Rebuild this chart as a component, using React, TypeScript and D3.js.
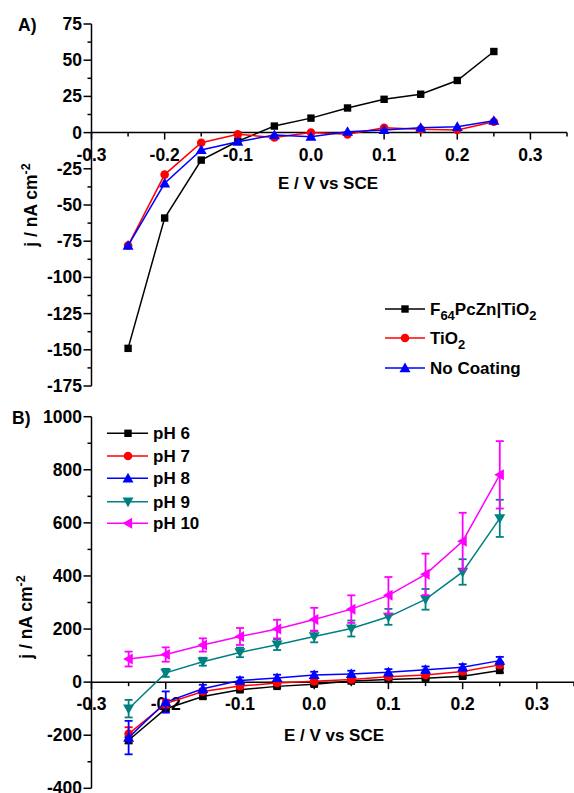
import React from "react";
import * as d3 from "d3";

const potentials = [-0.25, -0.2, -0.15, -0.1, -0.05, 0.0, 0.05, 0.1, 0.15, 0.2, 0.25];

// Panel A
const aF64 = [-149, -59, -19, -6, 4.5, 10, 17, 23, 26.5, 36, 56];
const aTiO2 = [-78, -29, -7, -1.2, -3.3, 0, -1.2, 3.4, 2.3, 1.8, 7.5];
const aNone = [-78, -35, -12, -6.3, -1.7, -2.8, 0.6, 1.8, 3.4, 4, 8.2];
const aYTicks = [75, 50, 25, 0, -25, -50, -75, -100, -125, -150, -175];
const xTicks = [-0.3, -0.2, -0.1, 0.0, 0.1, 0.2, 0.3];

// Panel B
const bPH6 = [-219, -100, -54, -29, -16, -8, 4, 10, 15, 22, 44];
const bPH7 = [-195, -81, -35, -15, -3, 3, 10, 20, 27, 40, 65];
const bPH8 = [-209, -75, -25, 6, 16, 27, 31, 37, 47, 56, 81];
const bPH9 = [-100, 35, 77, 112, 141, 172, 202, 246, 312, 415, 617];
const bPH10 = [87, 104, 140, 172, 200, 236, 275, 327, 406, 531, 781];
const bErr6 = [12, 10, 8, 6, 6, 6, 6, 6, 6, 6, 8];
const bErr7 = [25, 15, 10, 8, 8, 8, 8, 8, 8, 8, 10];
const bErr8 = [63, 40, 15, 12, 12, 12, 12, 12, 12, 12, 14];
const bErr9 = [33, 15, 15, 18, 20, 22, 30, 30, 39, 48, 70];
const bErr10 = [28, 27, 25, 32, 35, 44, 52, 69, 78, 107, 127];
const bYTicks = [1000, 800, 600, 400, 200, 0, -200, -400];

const FONT = "'Liberation Sans', Arial, sans-serif";
const TICK = 17.5;

type Shape = "square" | "circle" | "up" | "down" | "left";

function Marker({ shape, x, y, color }: { shape: Shape; x: number; y: number; color: string }) {
  if (shape === "square") return <rect x={x - 3.7} y={y - 3.7} width={7.4} height={7.4} fill={color} />;
  if (shape === "circle") return <circle cx={x} cy={y} r={4.3} fill={color} />;
  let pts: [number, number][] = [];
  const t = 5.5;
  if (shape === "up") pts = [[x, y - t], [x - t, y + t * 0.75], [x + t, y + t * 0.75]];
  if (shape === "down") pts = [[x, y + t], [x - t, y - t * 0.75], [x + t, y - t * 0.75]];
  if (shape === "left") pts = [[x - t, y], [x + t * 0.75, y - t], [x + t * 0.75, y + t]];
  return <polygon points={pts.map((p) => p.join(",")).join(" ")} fill={color} />;
}

function Series({
  xs, ys, errs, color, shape, x, y,
}: {
  xs: number[]; ys: number[]; errs?: number[]; color: string; shape: Shape;
  x: d3.ScaleLinear<number, number>; y: d3.ScaleLinear<number, number>;
}) {
  const line = d3.line<number>().x((_, i) => x(xs[i])).y((d) => y(d));
  return (
    <g>
      {errs &&
        ys.map((v, i) => {
          const cx = x(xs[i]);
          const y1 = y(v + errs[i]);
          const y2 = y(v - errs[i]);
          return (
            <g key={"e" + i} stroke={color} strokeWidth={1.8}>
              <line x1={cx} x2={cx} y1={y1} y2={y2} />
              <line x1={cx - 4} x2={cx + 4} y1={y1} y2={y1} />
              <line x1={cx - 4} x2={cx + 4} y1={y2} y2={y2} />
            </g>
          );
        })}
      <path d={line(ys) || ""} fill="none" stroke={color} strokeWidth={1.5} />
      {ys.map((v, i) => (
        <Marker key={i} shape={shape} x={x(xs[i])} y={y(v)} color={color} />
      ))}
    </g>
  );
}

function XAxis({ x, y0, x0, x1 }: { x: d3.ScaleLinear<number, number>; y0: number; x0: number; x1: number }) {
  const minor = d3.range(-0.25, 0.36, 0.1);
  return (
    <g>
      <line x1={x0} x2={x1} y1={y0} y2={y0} stroke="#000" strokeWidth={1.5} />
      {xTicks.map((t) => (
        <g key={t}>
          <line x1={x(t)} x2={x(t)} y1={y0} y2={y0 + 7} stroke="#000" strokeWidth={1.5} />
          <text x={x(t)} y={y0 + 28} textAnchor="middle" fontFamily={FONT} fontWeight="bold" fontSize={TICK}>
            {t.toFixed(1)}
          </text>
        </g>
      ))}
      {minor.map((t) => (
        <line key={"m" + t} x1={x(t)} x2={x(t)} y1={y0} y2={y0 + 4} stroke="#000" strokeWidth={1.5} />
      ))}
    </g>
  );
}

function YAxis({ y, ticks, minors, xa }: { y: d3.ScaleLinear<number, number>; ticks: number[]; minors: number[]; xa: number }) {
  const [d0, d1] = y.domain();
  return (
    <g>
      <line x1={xa} x2={xa} y1={y(d0)} y2={y(d1)} stroke="#000" strokeWidth={1.5} />
      {ticks.map((t) => (
        <g key={t}>
          <line x1={xa - 8} x2={xa} y1={y(t)} y2={y(t)} stroke="#000" strokeWidth={1.5} />
          <text x={xa - 9.5} y={y(t) + 6} textAnchor="end" fontFamily={FONT} fontWeight="bold" fontSize={TICK}>
            {t}
          </text>
        </g>
      ))}
      {minors.map((t) => (
        <line key={"m" + t} x1={xa - 4} x2={xa} y1={y(t)} y2={y(t)} stroke="#000" strokeWidth={1.5} />
      ))}
    </g>
  );
}

function YTitle({ cx, cy }: { cx: number; cy: number }) {
  return (
    <text transform={`translate(${cx},${cy}) rotate(-90)`} textAnchor="middle" fontFamily={FONT} fontWeight="bold" fontSize={17.5}>
      j / nA cm<tspan dy={-7} fontSize={12.5}>-2</tspan>
    </text>
  );
}

export default function App() {
  const xA = d3.scaleLinear().domain([-0.3, 0.35]).range([91.5, 567]);
  const yA = d3.scaleLinear().domain([-175, 75]).range([386, 24]);
  const xB = d3.scaleLinear().domain([-0.3, 0.35]).range([91.5, 574]);
  const yB = d3.scaleLinear().domain([-400, 1000]).range([788.3, 416.7]);

  const aMinor = d3.range(-162.5, 75, 25);
  const bMinor = d3.range(-300, 1000, 200);

  const legA = [
    { label: "F64", color: "#000", shape: "square" as Shape },
    { label: "TiO2", color: "#ff0000", shape: "circle" as Shape },
    { label: "No Coating", color: "#0000ff", shape: "up" as Shape },
  ];
  const legB = [
    { label: "pH 6", color: "#000", shape: "square" as Shape },
    { label: "pH 7", color: "#ff0000", shape: "circle" as Shape },
    { label: "pH 8", color: "#0000ff", shape: "up" as Shape },
    { label: "pH 9", color: "#008080", shape: "down" as Shape },
    { label: "pH 10", color: "#ff00ff", shape: "left" as Shape },
  ];
  const legAY = [309, 338, 368];
  const legBY = [433.3, 456, 478.3, 501.7, 523.3];

  return (
    <svg width={574} height={793} style={{ position: "absolute", left: 0, top: 0, background: "#fff" }}>
      {/* Panel A */}
      <text x={18} y={31} fontFamily={FONT} fontWeight="bold" fontSize={17.5}>A)</text>
      <YAxis y={yA} ticks={aYTicks} minors={aMinor} xa={91.5} />
      <XAxis x={xA} y0={yA(0)} x0={91.5} x1={567} />
      <text x={328} y={189} textAnchor="middle" fontFamily={FONT} fontWeight="bold" fontSize={17}>E / V vs SCE</text>
      <YTitle cx={37} cy={205} />
      <Series xs={potentials} ys={aF64} color="#000" shape="square" x={xA} y={yA} />
      <Series xs={potentials} ys={aTiO2} color="#ff0000" shape="circle" x={xA} y={yA} />
      <Series xs={potentials} ys={aNone} color="#0000ff" shape="up" x={xA} y={yA} />
      {legA.map((l, i) => (
        <g key={l.label}>
          <line x1={385} x2={425} y1={legAY[i]} y2={legAY[i]} stroke={l.color} strokeWidth={1.5} />
          <Marker shape={l.shape} x={405} y={legAY[i]} color={l.color} />
          <text x={430} y={legAY[i] + 6} fontFamily={FONT} fontWeight="bold" fontSize={17}>
            {i === 0 ? (
              <>
                F<tspan dy={5} fontSize={13}>64</tspan>
                <tspan dy={-5}>PcZn|TiO</tspan>
                <tspan dy={5} fontSize={13}>2</tspan>
              </>
            ) : i === 1 ? (
              <>
                TiO<tspan dy={5} fontSize={13}>2</tspan>
              </>
            ) : (
              l.label
            )}
          </text>
        </g>
      ))}

      {/* Panel B */}
      <text x={12} y={424} fontFamily={FONT} fontWeight="bold" fontSize={17.5}>B)</text>
      <YAxis y={yB} ticks={bYTicks} minors={bMinor} xa={91.5} />
      <XAxis x={xB} y0={yB(0)} x0={91.5} x1={574} />
      <text x={334} y={741} textAnchor="middle" fontFamily={FONT} fontWeight="bold" fontSize={17}>E / V vs SCE</text>
      <YTitle cx={32} cy={617} />
      <Series xs={potentials} ys={bPH6} errs={bErr6} color="#000" shape="square" x={xB} y={yB} />
      <Series xs={potentials} ys={bPH7} errs={bErr7} color="#ff0000" shape="circle" x={xB} y={yB} />
      <Series xs={potentials} ys={bPH8} errs={bErr8} color="#0000ff" shape="up" x={xB} y={yB} />
      <Series xs={potentials} ys={bPH9} errs={bErr9} color="#008080" shape="down" x={xB} y={yB} />
      <Series xs={potentials} ys={bPH10} errs={bErr10} color="#ff00ff" shape="left" x={xB} y={yB} />
      {legB.map((l, i) => (
        <g key={l.label}>
          <line x1={107} x2={148} y1={legBY[i]} y2={legBY[i]} stroke={l.color} strokeWidth={1.5} />
          <Marker shape={l.shape} x={128} y={legBY[i]} color={l.color} />
          <text x={153} y={legBY[i] + 6} fontFamily={FONT} fontWeight="bold" fontSize={17}>{l.label}</text>
        </g>
      ))}
    </svg>
  );
}
